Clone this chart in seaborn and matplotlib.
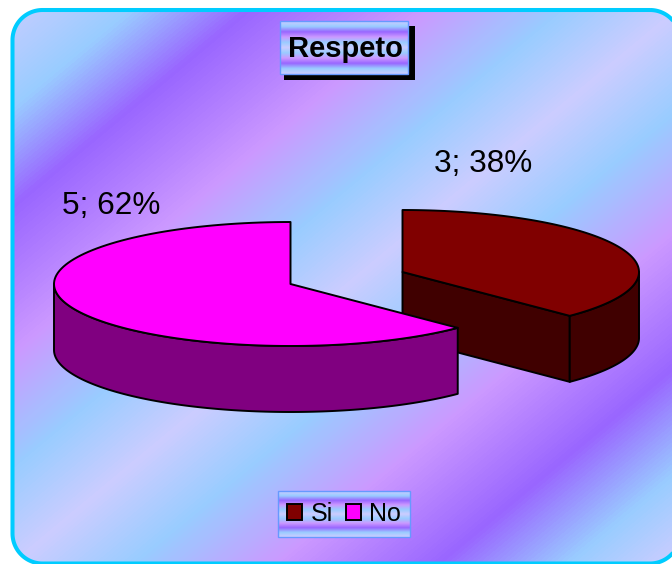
import numpy as np
import seaborn as sns
import matplotlib.pyplot as plt
from matplotlib.colors import LinearSegmentedColormap
from matplotlib.patches import Patch, Polygon, Rectangle

sns.set_theme(style="white")
plt.rcParams['font.family'] = ['Liberation Sans', 'DejaVu Sans']

title = "Respeto"
labels = ["Si", "No"]
values = [3, 5]
top_colors = sns.color_palette(["#800000", "#FF00FF"])
wall_colors = sns.color_palette(["#400000", "#800080"])

# pie geometry in pixels
centers = [(402.5, 272), (290.5, 284)]
rx, ry, depth = 236.5, 62, 66
label_pos = [(434, 172), (62, 214)]

light, sky, purple, pink = "#CCCCFF", "#99CCFF", "#9966FF", "#CC99FF"
stops = [0, 140, 257, 435, 572, 690, 810, 953, 1117, 1245, 1349]
stop_cols = [light, sky, purple, pink, sky, light, sky, pink, purple, sky, light]
fog = LinearSegmentedColormap.from_list("fog", [(s / 1349, c) for s, c in zip(stops, stop_cols)])
box_fog = LinearSegmentedColormap.from_list("box_fog", stop_cols)

fig = plt.figure(figsize=(6.72, 5.64), dpi=100)
ax = fig.add_axes([0, 0, 1, 1])
ax.set_axis_off()
ax.set_xlim(0, 672)
ax.set_ylim(564, 0)


def rounded(x0, y0, x1, y1, r):
    pts = []
    for cx, cy, a in [(x1 - r, y0 + r, -90), (x1 - r, y1 - r, 0), (x0 + r, y1 - r, 90), (x0 + r, y0 + r, 180)]:
        t = np.radians(np.linspace(a, a + 90, 30))
        pts.append(np.c_[cx + r * np.cos(t), cy + r * np.sin(t)])
    return np.vstack(pts)


# background with rounded cyan border
yy, xx = np.mgrid[0:564, 0:672]
frame = Polygon(rounded(12.5, 10, 680, 563.5, 30), closed=True, fc="none", ec="#00CCFF", lw=2.9, zorder=2)
ax.add_patch(frame)
bg = ax.imshow((xx + 1.2 * yy) / 1349, cmap=fog, vmin=0, vmax=1, extent=(0, 672, 564, 0),
               aspect="auto", zorder=1)
bg.set_clip_path(frame)


def arc(c, a0, a1, dy=0):
    # angles clockwise from 12 o'clock
    t = np.radians(np.linspace(a0, a1, 120))
    return c[0] + rx * np.sin(t), c[1] + ry * -np.cos(t) + dy


def box(x0, y0, x1, y1):
    g = np.linspace(0, 1, 200).reshape(-1, 1)
    ax.imshow(g, cmap=box_fog, vmin=0, vmax=1, extent=(x0, x1, y1, y0), aspect="auto", zorder=4)
    ax.add_patch(Rectangle((x0, y0), x1 - x0, y1 - y0, fc="none", ec="#6699FF", lw=1, zorder=5))


edge = dict(edgecolor="black", linewidth=1.4, joinstyle="round")
total = sum(values)
fracs = [v / total for v in values]
starts = [0, fracs[0] * 360]
ends = [fracs[0] * 360, 360]

for i, c in enumerate(centers):
    a0, a1 = starts[i], ends[i]
    # cut face of the first slice, seen from the front
    if a0 < 90:
        ex, ey = arc(c, a1, a1)
        ax.fill([c[0], ex[0], ex[0], c[0]], [c[1], ey[0], ey[0] + depth, c[1] + depth],
                facecolor=wall_colors[i], zorder=6 + i, **edge)
    # outer wall: only the part of the rim facing down
    lo, hi = max(a0, 90), min(a1, 270)
    wx, wy = arc(c, lo, hi)
    ax.fill(np.r_[wx, wx[::-1]], np.r_[wy, wy[::-1] + depth], facecolor=wall_colors[i], zorder=6 + i, **edge)
    # top face
    tx, ty = arc(c, a0, a1)
    ax.fill(np.r_[c[0], tx], np.r_[c[1], ty], facecolor=top_colors[i], zorder=6 + i, **edge)
    ax.text(label_pos[i][0], label_pos[i][1], f"{values[i]}; {fracs[i] * 100:.0f}%",
            fontsize=22.7, color="black", ha="left", va="baseline", zorder=9)

# title box with its hard shadow
ax.add_patch(Rectangle((284, 26), 131, 54, fc="black", ec="none", zorder=3))
box(280, 21, 408, 74)
ax.text(345, 57, title, fontsize=21, fontweight="bold", color="black", ha="center", va="baseline", zorder=6)

# legend
box(278, 491, 410, 537)
handles = [Patch(facecolor=top_colors[i], edgecolor="black", linewidth=1.4, label=labels[i]) for i in range(2)]
ax.legend(handles=handles, ncol=2, frameon=False, fontsize=18, loc="center", labelcolor="black",
          bbox_to_anchor=(344, 514), bbox_transform=ax.transData, handlelength=0.62, handleheight=0.62,
          handletextpad=0.32, columnspacing=0.52, borderpad=0, borderaxespad=0).set_zorder(7)

ax.set_xlim(0, 672)
ax.set_ylim(564, 0)
fig.savefig("out.png", dpi=100)
